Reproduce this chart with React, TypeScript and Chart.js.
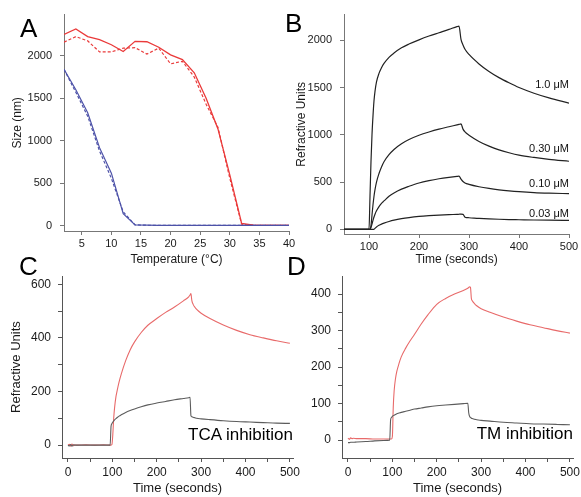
import React, { useEffect, useRef } from "react";
import { Chart, registerables } from "chart.js";

Chart.register(...registerables);

const FONT = "'Liberation Sans', Arial, Helvetica, sans-serif";

// ---------- Panel A ----------
const aTemp = [2, 4, 6, 8, 10, 12, 14, 16, 18, 20, 22, 24, 26, 28, 30, 32, 34, 36, 38, 40];
const aRedSolid = [2250, 2315, 2225, 2190, 2130, 2050, 2170, 2165, 2100, 2010, 1955, 1800, 1500, 1140, 600, 30, 10, 6, 5, 5];
const aRedDashed = [2160, 2225, 2175, 2045, 2045, 2090, 2095, 2020, 2090, 1905, 1935, 1750, 1430, 1160, 560, 20, 8, 5, 5, 5];
const aBlueSolid = [1840, 1600, 1330, 920, 620, 145, 12, 8, 6, 5, 5, 5, 5, 5, 5, 5, 5, 5, 5, 5];
const aBlueDashed = [1840, 1570, 1290, 880, 560, 165, 12, 8, 6, 5, 5, 5, 5, 5, 5, 5, 5, 5, 5, 5];
const aXTicks = [5, 10, 15, 20, 25, 30, 35, 40];
const aYTicks = [0, 500, 1000, 1500, 2000];

// ---------- Panel B ----------
const bTime = [50, 100, 102, 104, 106, 108, 110, 112, 115, 120, 125, 130, 140, 150, 165, 180, 200, 220, 240, 260, 276, 280, 284, 288, 292, 300, 320, 340, 360, 380, 400, 430, 460, 500];
const b1_0 = [0, 0, 350, 720, 1000, 1200, 1360, 1460, 1560, 1650, 1710, 1755, 1820, 1865, 1920, 1960, 2005, 2045, 2080, 2115, 2145, 2150, 2010, 1950, 1905, 1850, 1750, 1670, 1605, 1550, 1500, 1440, 1390, 1335];
const b0_30 = [0, 0, 0, 40, 150, 260, 350, 420, 500, 590, 660, 715, 790, 845, 905, 950, 995, 1030, 1060, 1085, 1105, 1110, 1115, 1060, 1030, 995, 930, 880, 840, 810, 785, 760, 740, 720];
const b0_10 = [0, 0, 0, 20, 55, 95, 130, 160, 195, 240, 275, 300, 350, 385, 425, 455, 490, 515, 535, 550, 560, 562, 530, 505, 490, 475, 450, 432, 418, 407, 398, 388, 382, 377];
const b0_03 = [0, 0, 0, 0, 0, 0, 0, 10, 25, 42, 55, 65, 82, 96, 112, 124, 136, 144, 150, 155, 158, 159, 160, 158, 128, 122, 115, 110, 106, 103, 101, 98, 96, 95];
const bLabels = ["1.0 \u03bcM", "0.30 \u03bcM", "0.10 \u03bcM", "0.03 \u03bcM"];
const bLabelY = [1500, 820, 450, 135];
const bXTicks = [100, 200, 300, 400, 500];
const bYTicks = [0, 500, 1000, 1500, 2000];

// ---------- Panel C ----------
const cTime = [0, 3, 6, 9, 12, 15, 20, 40, 60, 80, 95, 97, 99, 101, 103, 105, 108, 111, 115, 120, 130, 140, 150, 165, 180, 200, 220, 240, 260, 272, 275, 277, 279, 282, 286, 290, 300, 320, 350, 380, 410, 440, 470, 500];
const cRed = [0, 3, -4, 4, -2, 1, 0, 1, 0, 1, 0, 0, 2, 40, 100, 140, 180, 205, 235, 265, 315, 355, 385, 420, 447, 472, 495, 515, 538, 553, 560, 565, 540, 525, 514, 506, 492, 472, 448, 428, 412, 400, 389, 380];
const cGray = [0, -3, 2, -4, 1, 0, 0, 0, 0, 0, 0, 70, 80, 86, 90, 94, 99, 103, 108, 113, 122, 129, 135, 143, 150, 157, 163, 169, 174, 177, 178, 110, 106, 104, 102, 100, 98, 95, 91, 88, 86, 84, 82, 81];
const cXTicks = [0, 50, 100, 150, 200, 250, 300, 350, 400, 450, 500];
const cXLabels = [0, 100, 200, 300, 400, 500];
const cYTicks = [0, 100, 200, 300, 400, 500, 600];
const cYLabels = [0, 200, 400, 600];

// ---------- Panel D ----------
const dTime = [0, 3, 6, 9, 12, 20, 40, 60, 80, 94, 96, 98, 100, 102, 104, 107, 110, 115, 120, 130, 140, 150, 165, 180, 200, 220, 240, 260, 270, 272, 274, 276, 278, 280, 285, 290, 300, 320, 350, 380, 410, 440, 470, 500];
const dRed = [5, 2, 6, 4, 5, 4, 4, 3, 3, 3, 3, 3, 10, 90, 135, 168, 188, 210, 228, 252, 272, 290, 318, 343, 372, 388, 400, 410, 416, 418, 420, 418, 388, 382, 374, 368, 360, 350, 337, 326, 316, 308, 300, 293];
const dGray = [-7, -7, -6, -6, -6, -5, -4, -2, -1, 0, 55, 62, 65, 67, 68, 70, 72, 74, 76, 79, 82, 85, 88, 91, 94, 96, 98, 100, 101, 75, 65, 62, 60, 59, 57, 56, 54, 52, 49, 47, 45, 44, 43, 42];
const dXTicks = [0, 50, 100, 150, 200, 250, 300, 350, 400, 450, 500];
const dXLabels = [0, 100, 200, 300, 400, 500];
const dYTicks = [0, 50, 100, 150, 200, 250, 300, 350, 400];
const dYLabels = [0, 100, 200, 300, 400];

const pts = (xs: number[], ys: number[]) => xs.map((x, i) => ({ x, y: ys[i] }));

type AxisSpec = {
  min: number;
  max: number;
  ticks: number[];
  labels?: number[];
  size: number;
  fontSize: number;
  color: string;
  labelPad: number;
  title?: string;
  titleSize?: number;
  titlePad?: number;
};

function axis(spec: AxisSpec, horizontal: boolean): any {
  return {
    type: "linear",
    min: spec.min,
    max: spec.max,
    afterBuildTicks: (s: any) => {
      s.ticks = spec.ticks.map((v) => ({ value: v }));
    },
    afterFit: (s: any) => {
      if (horizontal) s.height = spec.size;
      else s.width = spec.size;
    },
    grid: {
      display: true,
      drawOnChartArea: false,
      drawTicks: true,
      tickLength: 4,
      color: spec.color,
      lineWidth: 1,
    },
    border: { display: true, color: spec.color, width: 1 },
    ticks: {
      autoSkip: false,
      maxRotation: 0,
      padding: spec.labelPad,
      color: "#1a1a1a",
      font: { family: FONT, size: spec.fontSize },
      callback: (v: number) => (!spec.labels || spec.labels.includes(v) ? String(v) : ""),
    },
    title: spec.title
      ? {
          display: true,
          text: spec.title,
          color: "#1a1a1a",
          font: { family: FONT, size: spec.titleSize },
          padding: horizontal ? { top: 0, bottom: spec.titlePad } : { top: spec.titlePad, bottom: 0 },
        }
      : { display: false },
  };
}

const baseOptions = (padding: any, x: any, y: any) => ({
  responsive: false,
  animation: false as const,
  layout: { padding },
  plugins: { legend: { display: false }, tooltip: { enabled: false } },
  elements: { point: { radius: 0 } },
  scales: { x, y },
});

const bLabelPlugin = {
  id: "bLabels",
  afterDatasetsDraw(chart: any) {
    const { ctx, scales } = chart;
    ctx.save();
    ctx.font = `11px ${FONT}`;
    ctx.fillStyle = "#111";
    ctx.textAlign = "right";
    ctx.textBaseline = "alphabetic";
    bLabels.forEach((t, i) => {
      ctx.fillText(t, scales.x.getPixelForValue(500), scales.y.getPixelForValue(bLabelY[i]));
    });
    ctx.restore();
  },
};

const RED = "#ea3a3a";
const BLUE = "#4d52a8";
const LRED = "#e86a6a";
const GRAY = "#5c5c5c";

function buildA(): any {
  return {
    type: "line",
    data: {
      datasets: [
        { data: pts(aTemp, aBlueDashed), borderColor: BLUE, borderWidth: 1.2, borderDash: [3, 2] },
        { data: pts(aTemp, aBlueSolid), borderColor: BLUE, borderWidth: 1.2 },
        { data: pts(aTemp, aRedDashed), borderColor: RED, borderWidth: 1.2, borderDash: [3, 2] },
        { data: pts(aTemp, aRedSolid), borderColor: RED, borderWidth: 1.3 },
      ],
    },
    options: baseOptions(
      { top: 13, right: 11, left: 0, bottom: 0 },
      axis({ min: 2, max: 40, ticks: aXTicks, size: 44, fontSize: 11, color: "#777", labelPad: 2, title: "Temperature (\u00b0C)", titleSize: 12, titlePad: 8 }, true),
      axis({ min: -60, max: 2484, ticks: aYTicks, size: 64, fontSize: 11, color: "#777", labelPad: 8, title: "Size (nm)", titleSize: 12, titlePad: 10 }, false)
    ),
  };
}

function buildB(): any {
  const ds = (d: number[]) => ({ data: pts(bTime, d), borderColor: "#222", borderWidth: 1.2, cubicInterpolationMode: "monotone" });
  return {
    type: "line",
    data: { datasets: [ds(b0_03), ds(b0_10), ds(b0_30), ds(b1_0)] },
    options: baseOptions(
      { top: 14, right: 21, left: 0, bottom: 0 },
      axis({ min: 50, max: 500, ticks: bXTicks, size: 41, fontSize: 11, color: "#777", labelPad: 2, title: "Time (seconds)", titleSize: 12, titlePad: 8 }, true),
      axis({ min: -50, max: 2272, ticks: bYTicks, size: 54, fontSize: 11, color: "#777", labelPad: 8, title: "Refractive Units", titleSize: 12, titlePad: 4 }, false)
    ),
    plugins: [bLabelPlugin],
  };
}

function buildC(): any {
  return {
    type: "line",
    data: {
      datasets: [
        { data: pts(cTime, cGray), borderColor: GRAY, borderWidth: 1.1, cubicInterpolationMode: "monotone" },
        { data: pts(cTime, cRed), borderColor: LRED, borderWidth: 1.1, cubicInterpolationMode: "monotone" },
      ],
    },
    options: baseOptions(
      { top: 13, right: 17, left: 0, bottom: 0 },
      axis({ min: -13.5, max: 507, ticks: cXTicks, labels: cXLabels, size: 39, fontSize: 12, color: "#555", labelPad: 3, title: "Time (seconds)", titleSize: 13, titlePad: 1 }, true),
      axis({ min: -48, max: 630, ticks: cYTicks, labels: cYLabels, size: 62, fontSize: 12, color: "#555", labelPad: 7, title: "Refractive Units", titleSize: 13, titlePad: 9 }, false)
    ),
  };
}

function buildD(): any {
  return {
    type: "line",
    data: {
      datasets: [
        { data: pts(dTime, dGray), borderColor: GRAY, borderWidth: 1.1, cubicInterpolationMode: "monotone" },
        { data: pts(dTime, dRed), borderColor: LRED, borderWidth: 1.1, cubicInterpolationMode: "monotone" },
      ],
    },
    options: baseOptions(
      { top: 13, right: 17, left: 0, bottom: 0 },
      axis({ min: -13.5, max: 507, ticks: dXTicks, labels: dXLabels, size: 39, fontSize: 12, color: "#555", labelPad: 3, title: "Time (seconds)", titleSize: 13, titlePad: 1 }, true),
      axis({ min: -49, max: 449, ticks: dYTicks, labels: dYLabels, size: 52, fontSize: 12, color: "#555", labelPad: 7 }, false)
    ),
  };
}

function ChartCanvas(props: { left: number; top: number; width: number; height: number; build: () => any }) {
  const ref = useRef<HTMLCanvasElement>(null);
  useEffect(() => {
    const chart = new Chart(ref.current as HTMLCanvasElement, props.build());
    return () => chart.destroy();
  }, []);
  return (
    <canvas
      ref={ref}
      width={props.width}
      height={props.height}
      style={{ position: "absolute", left: props.left, top: props.top, width: props.width, height: props.height }}
    />
  );
}

const letter = (left: number, top: number): React.CSSProperties => ({
  position: "absolute",
  left,
  top,
  fontFamily: FONT,
  fontSize: 26,
  lineHeight: "26px",
  color: "#000",
});

const note = (right: number, top: number): React.CSSProperties => ({
  position: "absolute",
  right,
  top,
  fontFamily: FONT,
  fontSize: 17,
  lineHeight: "17px",
  color: "#000",
  whiteSpace: "nowrap",
});

export default function App() {
  return (
    <div style={{ position: "fixed", left: 0, top: 0, width: 581, height: 497, overflow: "hidden", background: "#fff" }}>
      <ChartCanvas left={0} top={0} width={300} height={275} build={buildA} />
      <ChartCanvas left={290} top={0} width={300} height={275} build={buildB} />
      <ChartCanvas left={0} top={262} width={310} height={235} build={buildC} />
      <ChartCanvas left={290} top={262} width={300} height={235} build={buildD} />
      <div style={letter(20, 15)}>A</div>
      <div style={letter(285, 10)}>B</div>
      <div style={letter(19, 253)}>C</div>
      <div style={letter(287, 253)}>D</div>
      <div style={note(288, 426)}>TCA inhibition</div>
      <div style={note(8, 425)}>TM inhibition</div>
    </div>
  );
}
